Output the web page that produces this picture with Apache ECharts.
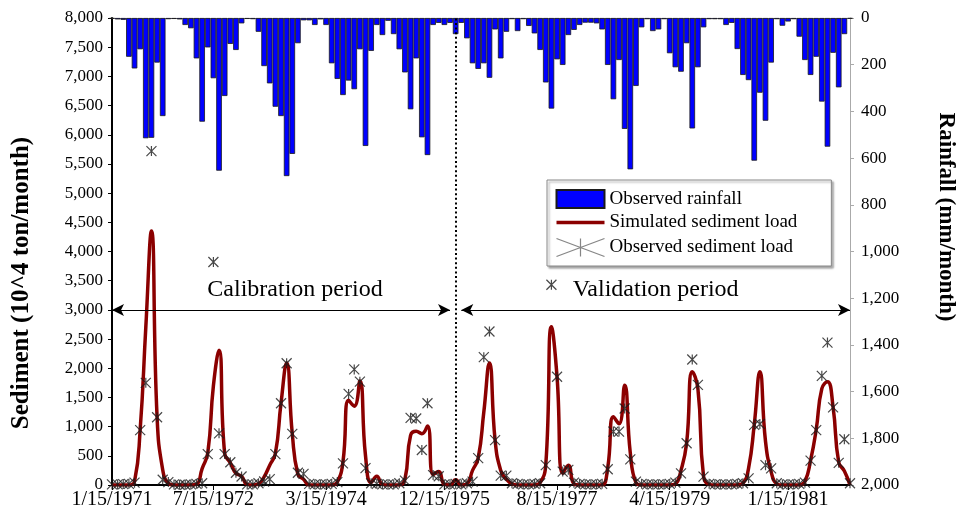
<!DOCTYPE html>
<html>
<head>
<meta charset="utf-8">
<script src="https://cdn.jsdelivr.net/npm/echarts@6/dist/echarts.min.js"></script>
<style>
  html, body { margin: 0; padding: 0; background: #fff; }
  #chart { width: 960px; height: 515px; }
</style>
</head>
<body>
<div id="chart"></div>
<script>
  // x labels shown under the axis
  const tickLabels = ['1/15/1971', '7/15/1972', '3/15/1974', '12/15/1975', '8/15/1977', '4/15/1979', '1/15/1981'];

  // monthly rainfall (mm/month), Jan 1971 .. Dec 1981
  const rainfall = [
    3, 6, 8, 166, 216, 134, 515, 513, 191, 420, 5, 4,
    6, 30, 44, 173, 444, 126, 258, 654, 334, 111, 137, 23,
    4, 5, 59, 206, 280, 380, 420, 677, 582, 108, 10, 10,
    30, 6, 30, 194, 261, 330, 268, 305, 134, 548, 141, 30,
    73, 12, 69, 134, 233, 391, 173, 511, 587, 30, 21, 30,
    21, 69, 21, 87, 194, 218, 194, 256, 49, 173, 59, 5,
    56, 5, 34, 66, 137, 276, 388, 177, 201, 73, 51, 30,
    20, 20, 23, 49, 201, 348, 180, 475, 648, 291, 40, 5,
    56, 49, 5, 151, 211, 230, 108, 473, 211, 40, 5, 5,
    5, 30, 21, 133, 244, 266, 611, 320, 440, 191, 5, 33,
    15, 5, 80, 180, 244, 166, 358, 551, 149, 297, 69, 3
  ];

  // simulated sediment load (10^4 ton/month)
  const simulated = [
    0, 0, 0, 0, 60, 950, 2700, 4350, 1170, 260, 30, 0,
    0, 0, 0, 10, 280, 550, 1700, 2310, 540, 380, 200, 150,
    10, 0, 20, 140, 340, 540, 1400, 2090, 880, 180, 100, 0,
    0, 0, 0, 0, 50, 400, 1450, 1350, 1780, 500, 40, 150,
    10, 0, 0, 0, 100, 850, 920, 880, 1010, 180, 230, 10,
    0, 90, 0, 20, 250, 460, 1250, 2090, 770, 250, 100, 20,
    0, 0, 0, 0, 40, 350, 2710, 1850, 200, 340, 20, 0,
    0, 0, 0, 0, 300, 1170, 1050, 1710, 550, 40, 0, 0,
    0, 0, 0, 0, 20, 250, 720, 1940, 1650, 150, 10, 0,
    0, 0, 0, 0, 30, 290, 1030, 1940, 750, 230, 20, 0,
    0, 0, 0, 60, 420, 950, 1650, 1770, 1330, 390, 240, 0
  ];

  // observed sediment load (10^4 ton/month)
  const observed = [
    10, 10, 15, 20, 40, 940, 1750, 5720, 1160, 90, 50, 10,
    5, 5, 10, 20, 30, 530, 3820, 885, 530, 390, 210, 145,
    10, 10, 30, 60, 100, 530, 1400, 2085, 875, 210, 190, 20,
    10, 10, 10, 20, 50, 370, 1560, 1980, 1770, 290, 30, 20,
    10, 10, 10, 30, 75, 1150, 1140, 600, 1400, 170, 150, 10,
    10, 20, 10, 30, 57, 460, 2190, 2630, 770, 160, 160, 30,
    20, 10, 10, 20, 30, 340, 3430, 1855, 230, 260, 40, 20,
    10, 10, 10, 20, 270, 915, 915, 1310, 440, 57, 20, 10,
    10, 10, 10, 20, 40, 200, 715, 2150, 1715, 143, 20, 10,
    10, 10, 10, 20, 30, 114, 1030, 1045, 340, 285, 30, 10,
    10, 10, 20, 40, 417, 940, 1870, 2440, 1330, 380, 783, 30
  ];

  const months = [];
  for (let y = 1971; y <= 1981; y++) {
    for (let m = 1; m <= 12; m++) months.push(m + '/15/' + y);
  }

  const font = "'Times New Roman', 'Liberation Serif', serif";
  const tickIdx = tickLabels.map((t) => months.indexOf(t));
  const showTick = (i) => tickIdx.indexOf(i) >= 0;
  const star = 'path://M0,0L10,10M10,0L0,10M5,0L5,10';
  const starWide = 'path://M0,0L48,18M48,0L0,18M24,0L24,18';
  const lineIcon = 'path://M0,0L48,0L48,3.5L0,3.5Z';

  const chart = echarts.init(document.getElementById('chart'));

  const option = {
    animation: false,
    textStyle: { fontFamily: font, color: '#000' },
    grid: { left: 112, right: 110, top: 18, bottom: 30, outerBoundsMode: 'none' },
    legend: {
      orient: 'vertical',
      left: 547,
      top: 180,
      padding: [9, 34, 7, 7],
      itemWidth: 48,
      itemHeight: 18,
      itemGap: 4,
      symbolKeepAspect: true,
      backgroundColor: '#fff',
      borderColor: '#888',
      borderWidth: 1,
      shadowColor: 'rgba(0,0,0,0.35)',
      shadowBlur: 2,
      shadowOffsetX: 2,
      shadowOffsetY: 2,
      textStyle: { fontFamily: font, fontSize: 19, color: '#000' },
      data: [
        { name: 'Observed rainfall', icon: 'rect' },
        { name: 'Simulated sediment load', icon: lineIcon, itemStyle: { color: '#8b0000' } },
        { name: 'Observed sediment load', icon: starWide, itemStyle: { color: 'none', borderColor: '#666', borderWidth: 1.2 } },
      ],
    },
    graphic: [
      {
        type: 'text',
        x: 22,
        y: 283,
        rotation: Math.PI / 2,
        style: {
          text: 'Sediment (10^4 ton/month)',
          fontFamily: font,
          fontWeight: 'bold',
          fontSize: 25,
          fill: '#000',
          align: 'center',
          verticalAlign: 'middle',
        },
      },
      {
        type: 'text',
        x: 946,
        y: 217,
        rotation: -Math.PI / 2,
        style: {
          text: 'Rainfall (mm/month)',
          fontFamily: font,
          fontWeight: 'bold',
          fontSize: 23,
          fill: '#000',
          align: 'center',
          verticalAlign: 'middle',
        },
      },
    ],
    xAxis: [
      {
        type: 'category',
        data: months,
        boundaryGap: false,
        position: 'bottom',
        axisLine: { lineStyle: { color: '#000', width: 2 } },
        axisTick: { interval: (i) => showTick(i), length: 5, lineStyle: { color: '#000' } },
        axisLabel: { interval: (i) => showTick(i), color: '#000', fontSize: 20, fontFamily: font, margin: 5 },
        splitLine: { show: false },
      },
      {
        type: 'category',
        data: months,
        boundaryGap: false,
        position: 'top',
        axisLine: { lineStyle: { color: '#999', width: 1 } },
        axisTick: { show: false },
        axisLabel: { show: false },
        splitLine: { show: false },
      },
    ],
    yAxis: [
      {
        type: 'value',
        min: 0,
        max: 8000,
        interval: 500,
        position: 'left',
        axisLine: { show: true, lineStyle: { color: '#000', width: 2 } },
        axisTick: { show: true, length: 4, lineStyle: { color: '#000' } },
        axisLabel: {
          color: '#000',
          fontSize: 17,
          fontFamily: font,
          margin: 9,
          formatter: (v) => v.toLocaleString('en-US'),
        },
        splitLine: { show: false },
      },
      {
        type: 'value',
        min: 0,
        max: 2000,
        interval: 200,
        position: 'right',
        inverse: true,
        axisLine: { show: true, lineStyle: { color: '#aaa', width: 1 } },
        axisTick: { show: true, length: 4, lineStyle: { color: '#aaa' } },
        axisLabel: {
          color: '#000',
          fontSize: 17,
          fontFamily: font,
          margin: 11,
          formatter: (v) => v.toLocaleString('en-US'),
        },
        splitLine: { show: false },
      },
    ],
    series: [
      {
        name: 'Observed rainfall',
        type: 'bar',
        xAxisIndex: 1,
        yAxisIndex: 1,
        data: rainfall,
        barWidth: 5.6,
        itemStyle: { color: '#0000ff', borderColor: '#1a1a1a', borderWidth: 0.8 },
        z: 1,
      },
      {
        name: 'Simulated sediment load',
        type: 'line',
        data: simulated,
        smooth: 0.5,
        symbol: 'none',
        lineStyle: { color: '#8b0000', width: 3.5 },
        itemStyle: { color: '#8b0000' },
        z: 3,
        markLine: {
          silent: true,
          animation: false,
          data: [
            [
              { coord: [0, 3000], name: 'Calibration period', symbol: 'arrow', label: { padding: [0, 0, 0, 28] } },
              { coord: [60, 3000], symbol: 'arrow' },
            ],
            [
              { coord: [62, 3000], name: 'Validation period', symbol: 'arrow' },
              { coord: [131, 3000], symbol: 'arrow' },
            ],
          ],
          symbolSize: [9, 12],
          lineStyle: { color: '#000', width: 1, type: 'solid' },
          label: {
            show: true,
            position: 'insideMiddleTop',
            formatter: '{b}',
            distance: 8,
            fontFamily: font,
            fontSize: 24,
            color: '#000',
          },
        },
      },
      {
        name: 'Observed sediment load',
        type: 'scatter',
        data: observed,
        symbol: star,
        symbolSize: 10,
        itemStyle: { color: 'none', borderColor: '#1a1a1a', borderWidth: 1.2 },
        z: 4,
        markLine: {
          silent: true,
          animation: false,
          symbol: 'none',
          label: { show: false },
          lineStyle: { color: '#000', width: 2, type: [2, 2.6] },
          data: [{ xAxis: 61 }],
        },
      },
    ],
  };

  chart.setOption(option);
</script>
</body>
</html>
